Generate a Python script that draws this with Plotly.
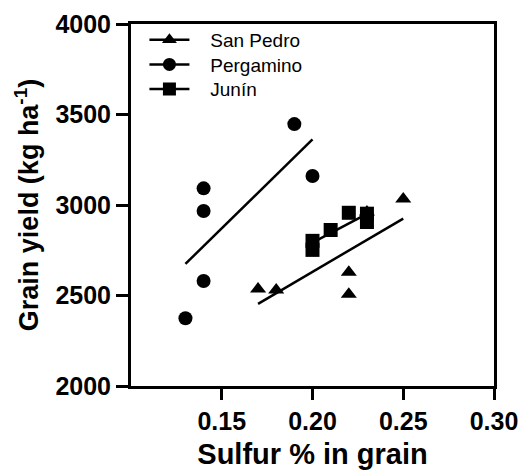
import numpy as np
import plotly.graph_objects as go

# Data
sp_x = [0.17, 0.18, 0.22, 0.22, 0.25, 0.23]
sp_y = [2536, 2530, 2628, 2507, 3033, 2962]

pe_x = [0.19, 0.20, 0.14, 0.14, 0.14, 0.13]
pe_y = [3447, 3160, 3092, 2967, 2580, 2374]

ju_x = [0.20, 0.20, 0.21, 0.22, 0.23, 0.23]
ju_y = [2752, 2802, 2862, 2957, 2952, 2906]

names = ["San Pedro", "Pergamino", "Junín"]
symbols = ["triangle-up", "circle", "square"]
x_ticks = [0.15, 0.20, 0.25, 0.30]
y_ticks = [2000, 2500, 3000, 3500, 4000]

FONT = "Arial, Liberation Sans, sans-serif"
fig = go.Figure()

legend_ids = ["legend", "legend2", "legend3"]
legend_y = [0.956, 0.888, 0.820]

groups = [(sp_x, sp_y), (pe_x, pe_y), (ju_x, ju_y)]
for (xs, ys), name, sym, lid in zip(groups, names, symbols, legend_ids):
    xs_a = np.array(xs)
    ys_a = np.array(ys)
    slope, icpt = np.polyfit(xs_a, ys_a, 1)
    xl = np.array([xs_a.min(), xs_a.max()])
    fig.add_trace(go.Scatter(x=xl, y=slope * xl + icpt, mode="lines",
                             line=dict(color="black", width=2.5),
                             showlegend=False, hoverinfo="skip"))
    fig.add_trace(go.Scatter(x=xs, y=ys, mode="markers",
                             marker=dict(symbol=sym, size=14, color="black"),
                             showlegend=False, name=name))
    fig.add_trace(go.Scatter(x=[None], y=[None], mode="lines+markers",
                             name="\u00a0\u00a0\u00a0" + name, legend=lid,
                             marker=dict(symbol=sym, size=13, color="black"),
                             line=dict(color="black", width=2.5)))

leg_common = dict(x=0.037, xanchor="left", yanchor="middle",
                  font=dict(size=19, family=FONT), bgcolor="rgba(0,0,0,0)",
                  itemwidth=40)
fig.update_layout(
    width=521, height=470,
    margin=dict(l=131, r=27, t=24, b=84, autoexpand=False),
    paper_bgcolor="white", plot_bgcolor="white",
    font=dict(family=FONT, color="black"),
    legend=dict(y=legend_y[0], **leg_common),
    legend2=dict(y=legend_y[1], **leg_common),
    legend3=dict(y=legend_y[2], **leg_common),
)
fig.update_xaxes(range=[0.10, 0.30], tickvals=x_ticks, tickformat=".2f",
                 showgrid=False, zeroline=False, automargin=False,
                 showline=True, linecolor="black", linewidth=3, mirror=True,
                 ticks="outside", ticklen=11, tickwidth=2.5, tickcolor="black",
                 tickfont=dict(size=25, family=FONT, weight="bold"),
                 title=dict(text="<b>Sulfur % in grain</b>", font=dict(size=29), standoff=10))
fig.update_yaxes(range=[2000, 4000], tickvals=y_ticks,
                 showgrid=False, zeroline=False, automargin=False,
                 showline=True, linecolor="black", linewidth=3, mirror=True,
                 ticks="outside", ticklen=12, tickwidth=2.5, tickcolor="black",
                 tickfont=dict(size=25, family=FONT, weight="bold"),
                 title=dict(text="<b>Grain yield (kg ha<sup>-1</sup>)</b>", font=dict(size=27), standoff=9))

fig.write_html("out.html", config={"displayModeBar": False},
               post_script="document.body.style.margin='0';document.body.style.overflow='hidden';")
